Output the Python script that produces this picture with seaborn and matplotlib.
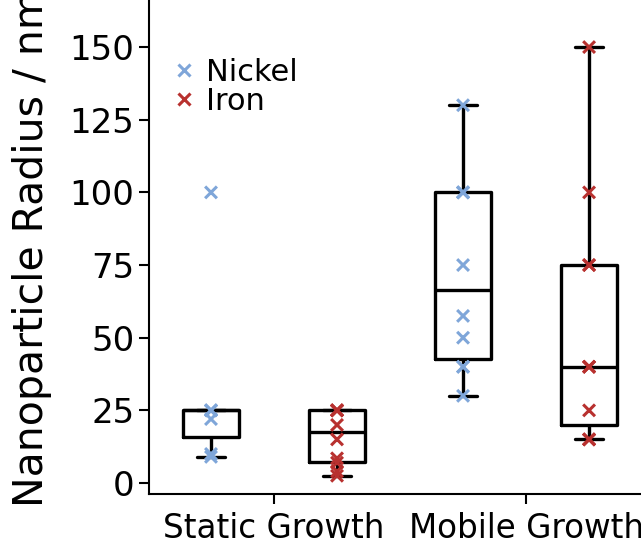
import numpy as np
import pandas as pd
import seaborn as sns
import matplotlib.pyplot as plt

# values (nm)
static_nickel = [9, 10, 22, 25, 25, 25, 100]
static_iron = [2.5, 4, 7, 8.5, 15, 20, 25, 25, 25, 25]
mobile_nickel = [30, 40, 40, 50, 57.5, 75, 100, 100, 100, 130]
mobile_iron = [15, 15, 15, 25, 40, 40, 40, 75, 75, 100, 150]

groups = ["Static Growth", "Mobile Growth"]
metals = ["Nickel", "Iron"]
colors = ["#7fa6d9", "#b8312f"]

rows = []
for grp, metal, vals in [
    ("Static Growth", "Nickel", static_nickel),
    ("Static Growth", "Iron", static_iron),
    ("Mobile Growth", "Nickel", mobile_nickel),
    ("Mobile Growth", "Iron", mobile_iron),
]:
    for v in vals:
        rows.append((grp, metal, v))
df = pd.DataFrame(rows, columns=["Growth", "Metal", "Radius"])

sns.set_style("ticks")
plt.rcParams['font.family'] = ['DejaVu Sans']
plt.rcParams['text.color'] = 'black'
plt.rcParams['axes.labelcolor'] = 'black'
plt.rcParams['xtick.color'] = 'black'
plt.rcParams['ytick.color'] = 'black'

fig = plt.figure(figsize=(6.41, 5.46), dpi=100)
ax = fig.add_axes([149 / 641, 52 / 546, 1 - 149 / 641, 1 - 52 / 546])

sns.boxplot(
    data=df, x="Growth", y="Radius", hue="Metal",
    order=groups, hue_order=metals,
    palette=["black", "black"], fill=False,
    width=1.0, gap=0.55, linewidth=2.4,
    showfliers=False, legend=False, ax=ax,
)
n_before = len(ax.collections)
sns.stripplot(
    data=df, x="Growth", y="Radius", hue="Metal",
    order=groups, hue_order=metals, palette=colors,
    dodge=True, jitter=False, marker="x", size=8.5, linewidth=2.2,
    ax=ax, zorder=5,
)
# spread the dodged points to sit on the box centres (box width=1.0 -> +-0.25)
for coll in ax.collections[n_before:]:
    off = coll.get_offsets()
    if len(off):
        c = np.round(off[:, 0])
        off[:, 0] = c + (off[:, 0] - c) * 1.25
        coll.set_offsets(off)

ax.set_xlim(-0.496, 1.456)
ax.set_ylim(-3.78, 166.2)
ax.set_yticks([0, 25, 50, 75, 100, 125, 150])
ax.set_xlabel("")
ax.set_ylabel("Nanoparticle Radius / nm", fontsize=29.5)
ax.yaxis.set_label_coords(-0.197, 0.498)
ax.tick_params(axis="y", labelsize=24.5, length=7, width=1.5)
ax.tick_params(axis="x", labelsize=23.5, length=7, width=1.5, pad=6)
for side in ["top", "right"]:
    ax.spines[side].set_visible(False)
for side in ["left", "bottom"]:
    ax.spines[side].set_linewidth(1.5)
    ax.spines[side].set_color("black")

leg = ax.legend(loc="upper left", frameon=False, fontsize=22, handletextpad=0.1,
                handlelength=1.2, labelspacing=0.0, borderaxespad=0.0,
                bbox_to_anchor=(0.01, 0.907))

fig.savefig("out.png", dpi=100)
